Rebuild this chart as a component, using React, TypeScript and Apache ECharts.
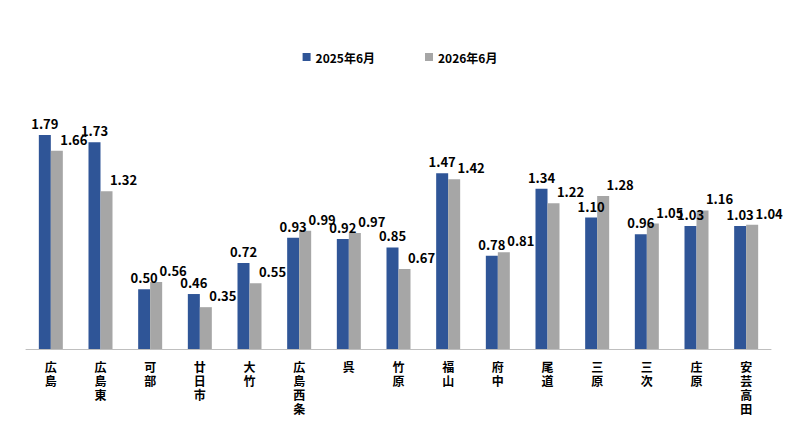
import * as echarts from 'echarts';
import React, { useEffect, useRef } from 'react';

const categories = ['広島', '広島東', '可部', '廿日市', '大竹', '広島西条', '呉', '竹原', '福山', '府中', '尾道', '三原', '三次', '庄原', '安芸高田'];
const series2025 = [1.79, 1.73, 0.5, 0.46, 0.72, 0.93, 0.92, 0.85, 1.47, 0.78, 1.34, 1.1, 0.96, 1.03, 1.03];
const series2026 = [1.66, 1.32, 0.56, 0.35, 0.55, 0.99, 0.97, 0.67, 1.42, 0.81, 1.22, 1.28, 1.05, 1.16, 1.04];

const font = "'Noto Sans CJK JP', 'Noto Sans', sans-serif";

const App: React.FC = () => {
  const chartRef = useRef<HTMLDivElement>(null);

  useEffect(() => {
    if (!chartRef.current) return;
    const chart = echarts.init(chartRef.current, null, { renderer: 'svg' });

    const makeLabel = (dx: number) => ({
      show: true,
      position: 'top' as const,
      offset: [dx, 0],
      fontSize: 13,
      fontWeight: 'bold' as const,
      color: '#000',
      fontFamily: font,
      formatter: (p: any) => p.value.toFixed(2),
    });

    chart.setOption({
      animation: false,
      legend: {
        top: 38,
        left: 'center',
        itemGap: 50,
        itemWidth: 8,
        itemHeight: 8,
        icon: 'rect',
        textStyle: { fontSize: 12, fontWeight: 'bold', fontFamily: font, color: '#000' },
      },
      grid: { left: 18, right: 21, top: 102, bottom: 79 },
      xAxis: {
        type: 'category',
        data: categories,
        axisTick: { show: false },
        axisLine: { lineStyle: { color: '#bfbfbf' } },
        axisLabel: {
          interval: 0,
          fontSize: 12,
          fontWeight: 'bold',
          color: '#000',
          fontFamily: font,
          lineHeight: 14,
          margin: 10,
          formatter: (v: string) => v.split('').join('\n'),
        },
      },
      yAxis: { type: 'value', min: 0, max: 2, show: false, splitLine: { show: false } },
      series: [
        { name: '2025年6月', type: 'bar', data: series2025, barWidth: 12, barGap: '0%', itemStyle: { color: '#2f5597' }, label: makeLabel(0) },
        { name: '2026年6月', type: 'bar', data: series2026, barWidth: 12, itemStyle: { color: '#a6a6a6' }, label: makeLabel(17) },
      ],
    });

    return () => chart.dispose();
  }, []);

  return <div ref={chartRef} style={{ width: 784, height: 420 }} />;
};

export default App;
